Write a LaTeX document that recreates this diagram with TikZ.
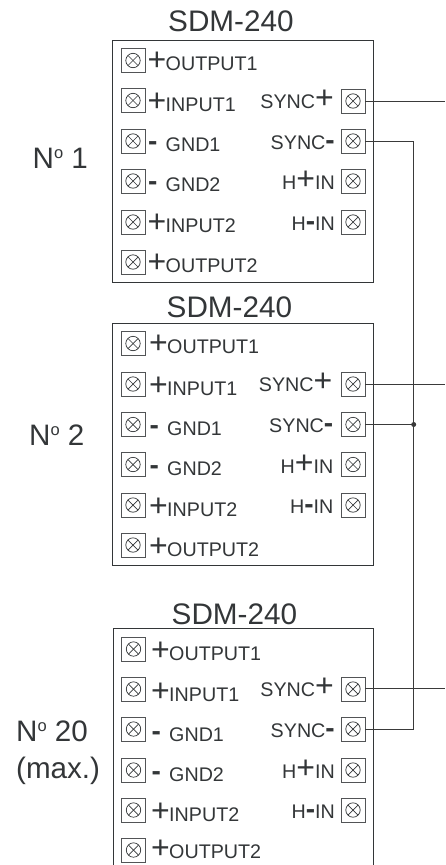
\documentclass[tikz,border=0pt]{standalone}
\usepackage{fontspec}
\setmainfont{Liberation Sans}
\definecolor{ink}{HTML}{333638}
\definecolor{wire}{HTML}{3A3A3A}
\newcommand{\bp}{{\fontsize{32}{30}\selectfont +}}
\newcommand{\bm}{{\fontsize{28}{30}\bfseries\selectfont -}}
\newcommand{\lp}{\makebox[17.5pt][l]{\hspace{-0.6pt}\bp}}
\newcommand{\lm}{\makebox[17.5pt][l]{\raisebox{1pt}{\bm}}}
\tikzset{
  x=1pt,y=-1pt,
  housing/.style={draw=ink,line width=1pt,fill=none},
  termbox/.style={draw=ink!85,line width=1pt,minimum size=24pt,inner sep=0pt,outer sep=0pt,
    path picture={
      \draw[ink,line width=0.7pt] (path picture bounding box.center) circle[radius=7.2pt];
      \draw[ink,line width=0.7pt] ([shift={(-5pt,-5pt)}]path picture bounding box.center) -- ([shift={(5pt,5pt)}]path picture bounding box.center);
      \draw[ink,line width=0.7pt] ([shift={(-5pt,5pt)}]path picture bounding box.center) -- ([shift={(5pt,-5pt)}]path picture bounding box.center);
    }},
  lab/.style={text=ink,font=\fontsize{19.7}{20}\selectfont,inner sep=0pt,anchor=base west},
  rlab/.style={text=ink,font=\fontsize{19.7}{20}\selectfont,inner sep=0pt,anchor=base east},
  title/.style={text=ink,font=\fontsize{29.7}{30}\selectfont,inner sep=0pt,anchor=base west},
  num/.style={text=ink,font=\fontsize{29.6}{30}\selectfont,inner sep=0pt,anchor=base west},
  wireline/.style={draw=wire,line width=1pt},
  jdot/.style={circle,fill=wire,inner sep=0pt,minimum size=5pt},
}
\newcommand{\nodeno}[1]{N\raisebox{10pt}{\fontsize{16.5}{16}\selectfont o} #1}
\begin{document}
\begin{tikzpicture}
\useasboundingbox (0,0) rectangle (445,865);
\clip (0,0) rectangle (445,865);

% ---------- unit 1
\node[title] (t1) at (168,31.7) {SDM-240};
\draw[housing] (112.5,40.5) rectangle (373.5,282.5);
\node[termbox] (a1) at (133,60.5) {};
\node[termbox] (a2) at (133,100.5) {};
\node[termbox] (a3) at (133,141) {};
\node[termbox] (a4) at (133,181) {};
\node[termbox] (a5) at (133,222) {};
\node[termbox] (a6) at (133,262) {};
\node[termbox] (as) at (353,101) {};
\node[termbox] (am) at (353,141) {};
\node[termbox] (ah) at (353,181) {};
\node[termbox] (al) at (353,222) {};
\node[lab] (la1) at (148,70) {\lp OUTPUT1};
\node[lab] (la2) at (148,111) {\lp INPUT1};
\node[lab] (la3) at (148,151) {\lm GND1};
\node[lab] (la4) at (148,191) {\lm GND2};
\node[lab] (la5) at (148,232) {\lp INPUT2};
\node[lab] (la6) at (148,272) {\lp OUTPUT2};
\node[rlab] (ra1) at (334,108) {SYNC\bp};
\node[rlab] (ra2) at (335,149) {SYNC\bm};
\node[rlab] (ra3) at (335,189) {H\bp IN};
\node[rlab] (ra4) at (335,230) {H\bm IN};
\node[num] (na) at (32.5,168) {\nodeno{1}};

% ---------- unit 2
\node[title] (t2) at (166.5,317.7) {SDM-240};
\draw[housing] (112.5,323.5) rectangle (373.5,565.5);
\node[termbox] (b1) at (133,343.5) {};
\node[termbox] (b2) at (133,384) {};
\node[termbox] (b3) at (133,424.5) {};
\node[termbox] (b4) at (133,464.5) {};
\node[termbox] (b5) at (133,505) {};
\node[termbox] (b6) at (133,545) {};
\node[termbox] (bs) at (353,384) {};
\node[termbox] (bm) at (353,424.5) {};
\node[termbox] (bh) at (353,464.5) {};
\node[termbox] (bl) at (353,505) {};
\node[lab] (lb1) at (149.5,353) {\lp OUTPUT1};
\node[lab] (lb2) at (149.5,395) {\lp INPUT1};
\node[lab] (lb3) at (149.5,435) {\lm GND1};
\node[lab] (lb4) at (149.5,475) {\lm GND2};
\node[lab] (lb5) at (149.5,516) {\lp INPUT2};
\node[lab] (lb6) at (149.5,556) {\lp OUTPUT2};
\node[rlab] (rb1) at (332.5,391) {SYNC\bp};
\node[rlab] (rb2) at (333.5,432) {SYNC\bm};
\node[rlab] (rb3) at (333.5,473) {H\bp IN};
\node[rlab] (rb4) at (333.5,513) {H\bm IN};
\node[num] (nb) at (29,445) {\nodeno{2}};

% ---------- unit 3
\node[title] (t3) at (171.5,624) {SDM-240};
\draw[housing] (113.5,628.5) rectangle (373.5,890);
\node[termbox] (c1) at (133.5,649) {};
\node[termbox] (c2) at (133.5,689) {};
\node[termbox] (c3) at (133.5,729) {};
\node[termbox] (c4) at (133.5,770) {};
\node[termbox] (c5) at (133.5,810) {};
\node[termbox] (c6) at (133.5,850) {};
\node[termbox] (cs) at (353,689) {};
\node[termbox] (cm) at (353,729) {};
\node[termbox] (ch) at (353,770) {};
\node[termbox] (cl) at (353,810) {};
\node[lab] (lc1) at (151.5,660) {\lp OUTPUT1};
\node[lab] (lc2) at (151.5,701) {\lp INPUT1};
\node[lab] (lc3) at (151.5,741) {\lm GND1};
\node[lab] (lc4) at (151.5,781) {\lm GND2};
\node[lab] (lc5) at (151.5,821) {\lp INPUT2};
\node[lab] (lc6) at (151.5,858) {\lp OUTPUT2};
\node[rlab] (rc1) at (334,696) {SYNC\bp};
\node[rlab] (rc2) at (335,737) {SYNC\bm};
\node[rlab] (rc3) at (335,778) {H\bp IN};
\node[rlab] (rc4) at (335,818) {H\bm IN};
\node[num] (nc) at (16,741.5) {\nodeno{20}};
\node[num] (nd) at (16,778.5) {(max.)};

% ---------- wiring
\coordinate (e1) at (445,101.5);
\coordinate (e2) at (445,384);
\coordinate (e3) at (445,688.5);
\coordinate (bus1) at (413.7,141);
\coordinate (bus3) at (413.7,729);
\node[jdot] (j) at (413.7,424.5) {};
\draw[wireline] (as.east |- e1) -- (e1);
\draw[wireline] (bs.east |- e2) -- (e2);
\draw[wireline] (cs.east |- e3) -- (e3);
\draw[wireline] (am.east) -- (bus1) -- (j.center) -- (bus3) -- (cm.east);
\draw[wireline] (bm.east) -- (j.center);
\end{tikzpicture}
\end{document}
